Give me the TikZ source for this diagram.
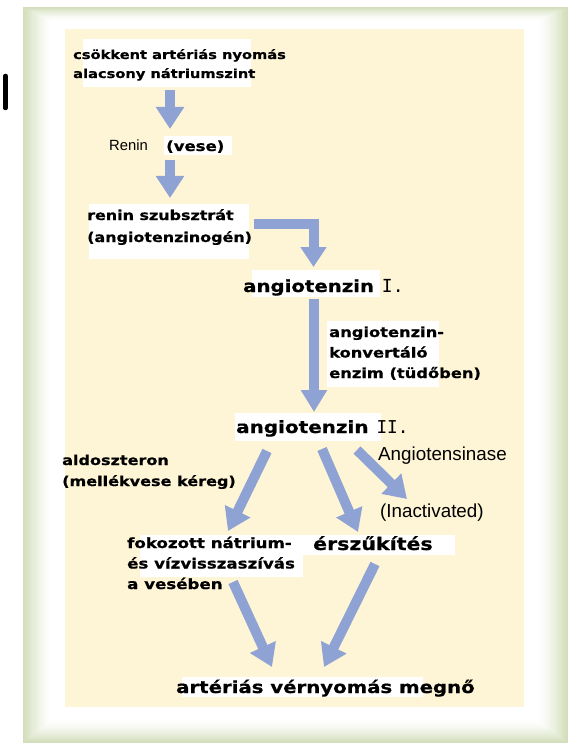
\documentclass[tikz,border=0pt]{standalone}
\usepackage{fontspec}
\usetikzlibrary{arrows.meta,calc}
\newfontfamily\comic[FakeStretch=1.18, BoldFeatures={FakeBold=0.7}]{DejaVu Sans}
\newfontfamily\arialf{Liberation Sans}
\newfontfamily\monof{DejaVu Sans Mono}
\definecolor{arrowblue}{RGB}{143,162,212}
\definecolor{cream}{RGB}{254,244,214}
\definecolor{framegreen}{RGB}{210,221,186}
\newcommand\cfont[2]{\comic\bfseries\fontsize{#1}{#2}\selectfont}
\newcommand\afont[1]{\arialf\mdseries\fontsize{#1}{#1}\selectfont}
\newcommand\romnum[2]{{\monof\mdseries\fontsize{#1}{#1}\selectfont #2}}
\newcommand\lines[1]{\begin{tabular}[t]{@{}l@{}}#1\end{tabular}}
\begin{document}
\begin{tikzpicture}[x=1pt,y=-1pt,
  lbl/.style={inner sep=0pt, anchor=base west},
  hl/.style={fill=white},
  fat/.style={draw=arrowblue, line width=10pt, line join=miter,
    -{Triangle[width=27pt,length=22pt]}}]
\useasboundingbox (0,0) rectangle (568,743);
\fill[white] (0,0) rectangle (568,743);
% frame with soft green edges
\foreach \i in {0,...,24}{
  \pgfmathsetmacro\p{100*(1-\i/24)^1.3}
  \fill[framegreen!\p!white] (23+\i*1.15,7+\i*0.55) rectangle (568-\i*1.2,743-\i*0.9);
}
\fill[cream] (65,29) rectangle (524,707);
% black bar at left
\draw[line width=4.5pt, line cap=round] (5.5,76) -- (5.5,108);
% white highlight boxes
\fill[hl] (83,39) rectangle (251,87);
\fill[hl] (164,136) rectangle (232,155);
\fill[hl] (89,204) rectangle (249,259);
\fill[hl] (252,270) rectangle (380,297);
\fill[hl] (327,321) rectangle (439,387);
\fill[hl] (235,413) rectangle (381,441);
\fill[hl] (140,535) rectangle (303,577);
\fill[hl] (303,535) rectangle (455,555);
\fill[hl] (182,677) rectangle (423,697);
% texts
\node[lbl, font=\cfont{12.4}{19}] (csok) at (73,59) {\lines{csökkent artériás nyomás\\alacsony nátriumszint}};
\node[lbl, font=\afont{14.8}] (renin) at (109,151) {Renin};
\node[lbl, font=\cfont{14}{17}] (vese) at (166,151) {(vese)};
\node[lbl, font=\cfont{13.5}{22}] (subs) at (87,220) {\lines{renin szubsztrát\\(angiotenzinogén)}};
\node[lbl, font=\cfont{16.7}{20}] (ang1) at (243,292) {angiotenzin\hspace{8pt}\romnum{18}{I.}};
\node[lbl, font=\cfont{13.8}{20.5}] (ace) at (329,337) {\lines{angiotenzin-\\konvertáló\\enzim (tüdőben)}};
\node[lbl, font=\cfont{16.9}{20}] (ang2) at (236,433) {angiotenzin\hspace{8pt}\romnum{17.7}{II.}};
\node[lbl, font=\cfont{13.6}{21}] (aldo) at (62,465) {\lines{aldoszteron\\(mellékvese kéreg)}};
\node[lbl, font=\afont{18.8}] (angase) at (378,460) {Angiotensinase};
\node[lbl, font=\afont{18.8}] (inact) at (380,517) {(Inactivated)};
\node[lbl, font=\cfont{14.1}{20.5}] (fokoz) at (127,548) {\lines{fokozott nátrium-\\és vízvisszaszívás\\a vesében}};
\node[lbl, font=\cfont{17.4}{20}] (ersz) at (313,550) {érszűkítés};
\node[lbl, font=\cfont{16.7}{20}] (art) at (176,693) {artériás vérnyomás megnő};
% arrows
\draw[fat] ([shift={(97,31)}]csok.base west) -- ([shift={(61,-22)}]renin.base west);
\draw[fat] ([shift={(61,9)}]renin.base west) -- ([shift={(83,-22)}]subs.base west);
\draw[fat, -{Triangle[width=25pt,length=20pt]}] ([shift={(167,4)}]subs.base west) -| ([shift={(70.5,-25)}]ang1.base west);
\draw[fat, -{Triangle[width=25pt,length=22pt]}] ([shift={(71,7)}]ang1.base west) -- ([shift={(78,-21)}]ang2.base west);
\draw[fat] ([shift={(31,18)}]ang2.base west) -- ([shift={(101,-17)}]fokoz.base west);
\draw[fat] ([shift={(86,16)}]ang2.base west) -- ([shift={(45,-18)}]ersz.base west);
\draw[fat] ([shift={(121,17)}]ang2.base west) -- ([shift={(27,-18)}]inact.base west);
\draw[fat] ([shift={(106,34)}]fokoz.base west) -- ([shift={(96,-26)}]art.base west);
\draw[fat] ([shift={(62,14)}]ersz.base west) -- ([shift={(148,-26)}]art.base west);
\end{tikzpicture}
\end{document}
